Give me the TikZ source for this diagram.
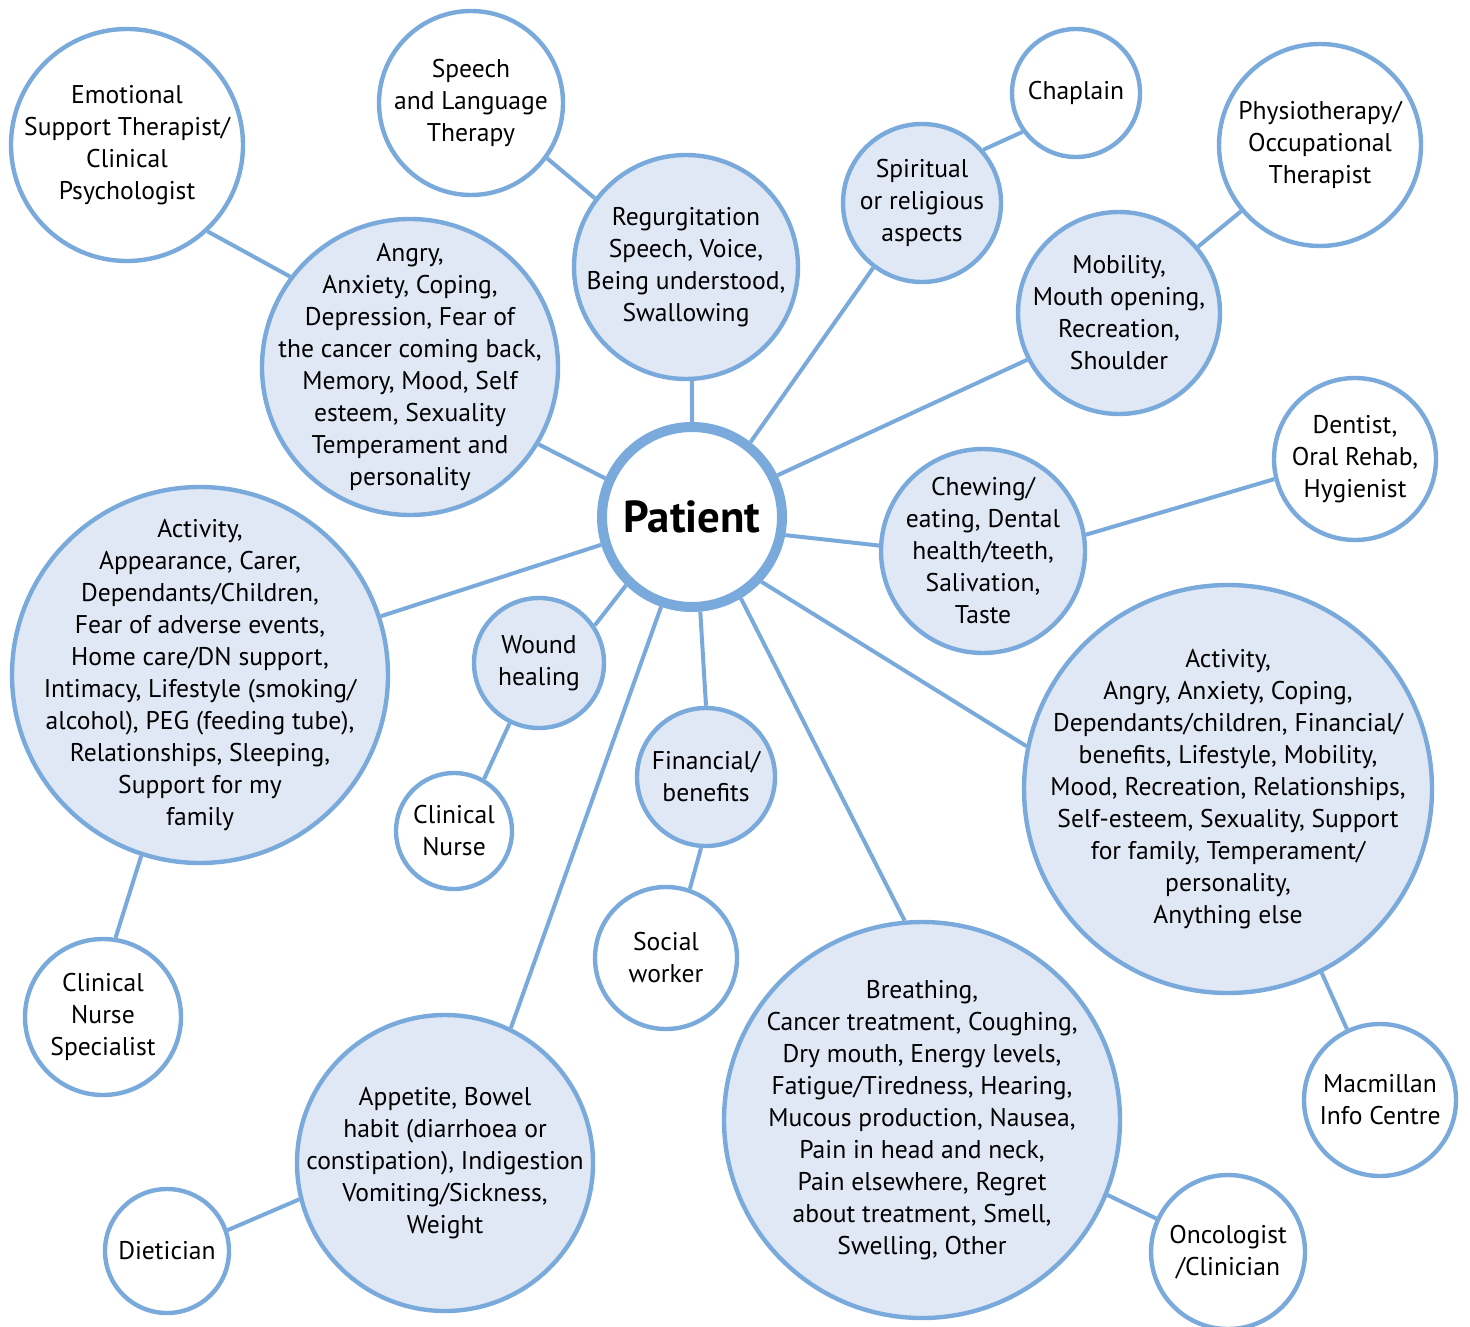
\documentclass[tikz,border=0pt]{standalone}
\usepackage{fontspec}
\setmainfont{PT Sans}
\definecolor{edgeblue}{RGB}{122,170,219}
\definecolor{fillblue}{RGB}{224,232,245}
\begin{document}
\begin{tikzpicture}[x=0.5pt,y=-0.5pt,
  txt/.style={align=center,font=\fontsize{12.8}{16}\selectfont,text=black,inner sep=0pt},
  bub/.style={circle,draw=edgeblue,line width=2.2pt,inner sep=0pt,
    label={[txt]center:{#1}}},
  topic/.style={bub={#1},fill=fillblue},
  who/.style={bub={#1},fill=white},
  link/.style={draw=edgeblue,line width=2pt}]
\useasboundingbox (0,0) rectangle (1470,1326);
% centre
\node[circle,draw=edgeblue,line width=5pt,fill=white,minimum size=90pt,inner sep=0pt,
  font=\fontsize{22.4}{26}\selectfont\bfseries] (pat) at (692,517) {Patient};
% topics
\node[topic={Regurgitation\\Speech, Voice,\\Being understood,\\Swallowing},minimum size=112pt] (reg) at (686,267) {};
\node[topic={Angry,\\Anxiety, Coping,\\Depression, Fear of\\the cancer coming back,\\Memory, Mood, Self\\esteem, Sexuality\\Temperament and\\personality},minimum size=148pt] (ang) at (410,367) {};
\node[topic={Spiritual\\or religious\\aspects},minimum size=79pt] (spi) at (922,203) {};
\node[topic={Mobility,\\Mouth opening,\\Recreation,\\Shoulder},minimum size=101pt] (mob) at (1119,313) {};
\node[topic={Chewing/\\eating, Dental\\health/teeth,\\Salivation,\\Taste},minimum size=102pt] (che) at (983,551) {};
\node[topic={Activity,\\Angry, Anxiety, Coping,\\Dependants/children, Financial/\\benefits, Lifestyle, Mobility,\\Mood, Recreation, Relationships,\\Self-esteem, Sexuality, Support\\for family, Temperament/\\personality,\\Anything else},minimum size=204pt] (actr) at (1228,789) {};
\node[topic={Breathing,\\Cancer treatment, Coughing,\\Dry mouth, Energy levels,\\Fatigue/Tiredness, Hearing,\\Mucous production, Nausea,\\Pain in head and neck,\\Pain elsewhere, Regret\\about treatment, Smell,\\Swelling, Other},minimum size=198pt] (bre) at (922,1120) {};
\node[topic={Financial/\\benefits},minimum size=69pt] (fin) at (706,777) {};
\node[topic={Wound\\healing},minimum size=65pt] (wou) at (539,663) {};
\node[topic={Activity,\\Appearance, Carer,\\Dependants/Children,\\Fear of adverse events,\\Home care/DN support,\\Intimacy, Lifestyle (smoking/\\alcohol), PEG (feeding tube),\\Relationships, Sleeping,\\Support for my\\family},minimum size=188pt] (actl) at (200,675) {};
\node[topic={Appetite, Bowel\\habit (diarrhoea or\\constipation), Indigestion\\Vomiting/Sickness,\\Weight},minimum size=148pt] (app) at (445,1163) {};
% professionals
\node[who={Emotional\\Support Therapist/\\Clinical\\Psychologist},minimum size=116pt] (emo) at (127,145) {};
\node[who={Speech\\and Language\\Therapy},minimum size=92pt] (spe) at (471,103) {};
\node[who={Chaplain},minimum size=64pt] (cha) at (1076,93) {};
\node[who={Physiotherapy/\\Occupational\\Therapist},minimum size=101pt] (phy) at (1320,145) {};
\node[who={Dentist,\\Oral Rehab,\\Hygienist},minimum size=81pt] (den) at (1355,459) {};
\node[who={Macmillan\\Info Centre},minimum size=76pt] (mac) at (1380,1100) {};
\node[who={Oncologist\\/Clinician},minimum size=77pt] (onc) at (1228,1252) {};
\node[who={Social\\worker},minimum size=71pt] (soc) at (666,958) {};
\node[who={Clinical\\Nurse},minimum size=58pt] (cln) at (454,831) {};
\node[who={Clinical\\Nurse\\Specialist},minimum size=78pt] (cns) at (103,1017) {};
\node[who={Dietician},minimum size=62pt] (die) at (167,1251) {};
% connectors
\path[link] (pat.90) -- (reg.-87);
\path[link] (pat.156) -- (ang.-31.6);
\path[link] (pat.52) -- (spi.-127);
\path[link] (pat.26.8) -- (mob.-153.7);
\path[link] (pat.-11.8) -- (che.177.8);
\path[link] (pat.-43.8) -- (actr.168.3);
\path[link] (pat.-59) -- (bre.95.4);
\path[link] (pat.-85.3) -- (fin.90);
\path[link] (pat.-109) -- (app.64.6);
\path[link] (pat.-134.6) -- (wou.34);
\path[link] (pat.-163) -- (actl.18.7);
\path[link] (reg.143) -- (spe.-36.5);
\path[link] (ang.143) -- (emo.-47.4);
\path[link] (spi.41) -- (cha.-144.9);
\path[link] (mob.40.4) -- (phy.-140);
\path[link] (che.9.7) -- (den.-166.3);
\path[link] (actr.-63.3) -- (mac.115.2);
\path[link] (bre.-22.5) -- (onc.155);
\path[link] (fin.-94.8) -- (soc.71.3);
\path[link] (wou.-116) -- (cln.60);
\path[link] (actl.-108.2) -- (cns.81.5);
\path[link] (app.-166) -- (die.19.8);
\end{tikzpicture}
\end{document}
